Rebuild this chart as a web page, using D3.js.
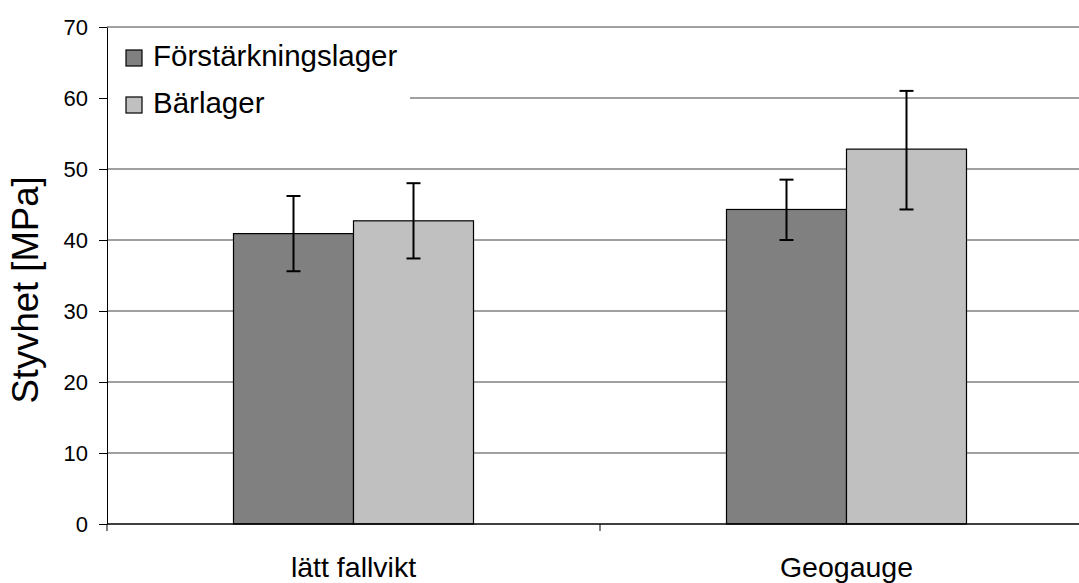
<!DOCTYPE html>
<html><head><meta charset="utf-8">
<script src="https://cdn.jsdelivr.net/npm/d3@7"></script>
<style>body{margin:0;background:#fff}svg{display:block;font-family:"Liberation Sans",Arial,sans-serif}</style>
</head><body><svg id="c" width="1079" height="583"></svg>
<script>
const categories = ["lätt fallvikt", "Geogauge"];
const seriesNames = ["Förstärkningslager", "Bärlager"];
const seriesColors = ["#808080", "#c0c0c0"];
const forstarkning = [40.9, 44.3];
const forstarkningLow = [35.6, 40.0];
const forstarkningHigh = [46.2, 48.5];
const barlager = [42.7, 52.8];
const barlagerLow = [37.4, 44.3];
const barlagerHigh = [48.0, 61.0];
const yTicks = [0, 10, 20, 30, 40, 50, 60, 70];

(function () {
const svg = d3.select("#c");
const pL = 107, pR = 1093, pT = 27, pB = 524;
const x = d3.scaleBand().domain(categories).range([pL, pR]);
const y = d3.scaleLinear().domain([0, 70]).range([pB, pT]);
const barW = 120;

// gridlines
svg.append("g").selectAll("line").data(yTicks.filter(d => d > 0)).join("line")
  .attr("x1", pL).attr("x2", pR)
  .attr("y1", d => y(d)).attr("y2", d => y(d))
  .attr("stroke", "#a0a0a0").attr("stroke-width", 1.3).attr("shape-rendering","crispEdges");

const series = [
  {name: seriesNames[0], color: seriesColors[0], v: forstarkning, lo: forstarkningLow, hi: forstarkningHigh, off: -1},
  {name: seriesNames[1], color: seriesColors[1], v: barlager, lo: barlagerLow, hi: barlagerHigh, off: 0}
];

// legend background covering grid
svg.append("rect").attr("x", pL + 1).attr("y", 34).attr("width", 302).attr("height", 92).attr("fill", "#fff");

// bars
series.forEach(s => {
  const g = svg.append("g");
  g.selectAll("rect").data(categories).join("rect")
    .attr("x", (c) => x(c) + x.bandwidth()/2 + s.off*barW)
    .attr("y", (c,i) => y(s.v[i]))
    .attr("width", barW)
    .attr("height", (c,i) => y(0) - y(s.v[i]))
    .attr("fill", s.color).attr("stroke", "#000").attr("stroke-width", 1.2);
});
// error bars
series.forEach(s => {
  const g = svg.append("g").attr("stroke", "#000").attr("stroke-width", 2);
  categories.forEach((c,i) => {
    const cx = x(c) + x.bandwidth()/2 + s.off*barW + barW/2;
    g.append("line").attr("x1", cx).attr("x2", cx).attr("y1", y(s.hi[i])).attr("y2", y(s.lo[i]));
    g.append("line").attr("x1", cx-7).attr("x2", cx+7).attr("y1", y(s.hi[i])).attr("y2", y(s.hi[i]));
    g.append("line").attr("x1", cx-7).attr("x2", cx+7).attr("y1", y(s.lo[i])).attr("y2", y(s.lo[i]));
  });
});

// y axis
const ya = svg.append("g").attr("transform", `translate(${pL},0)`)
  .call(d3.axisLeft(y).tickValues(yTicks).tickSize(8).tickPadding(11).tickSizeOuter(0));
ya.select(".domain").attr("stroke", "#000");
ya.selectAll("line").attr("stroke", "#000");
ya.selectAll("text").attr("font-size", 22).attr("fill", "#000").attr("font-family", "Liberation Sans, Arial, sans-serif");

// x axis
const xa = svg.append("g").attr("transform", `translate(0,${pB})`);
xa.append("line").attr("x1", pL).attr("x2", pR).attr("y1", 0).attr("y2", 0).attr("stroke", "#000").attr("stroke-width", 1.3);
const bounds = [pL, x(categories[1]), pR];
xa.selectAll("line.t").data(bounds).join("line").attr("class","t")
  .attr("x1", d => d).attr("x2", d => d).attr("y1", 0).attr("y2", 7).attr("stroke", "#000");
xa.selectAll("text").data(categories).join("text")
  .attr("x", c => x(c) + x.bandwidth()/2).attr("y", 53)
  .attr("text-anchor", "middle").attr("font-size", 28.5).attr("fill", "#000").text(c => c);

// y title
svg.append("text").attr("transform", "translate(38,290) rotate(-90)")
  .attr("text-anchor", "middle").attr("font-size", 36.5).attr("fill", "#000").text("Styvhet [MPa]");

// legend
const lg = svg.append("g");
series.forEach((s, i) => {
  const yy = 50 + i * 47;
  lg.append("rect").attr("x", 126).attr("y", yy).attr("width", 16).attr("height", 16)
    .attr("fill", s.color).attr("stroke", "#000").attr("stroke-width", 1.2);
  lg.append("text").attr("x", 153).attr("y", yy + 16).attr("font-size", 29.5).attr("fill", "#000").text(s.name);
});
})();
</script></body></html>
